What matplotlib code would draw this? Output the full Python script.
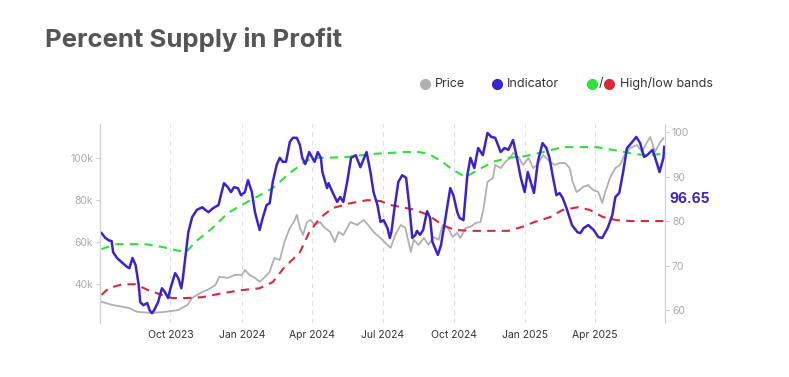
import matplotlib
matplotlib.use("Agg")
import matplotlib.pyplot as plt
import matplotlib.dates as mdates
from matplotlib.lines import Line2D
import pandas as pd

# Indicator (percent supply in profit, right axis)
ind_dates = ["2023-07-04", "2023-07-09", "2023-07-13", "2023-07-17", "2023-07-19", "2023-07-24",
             "2023-07-31", "2023-08-06", "2023-08-09", "2023-08-13", "2023-08-17", "2023-08-21",
             "2023-08-23", "2023-08-27", "2023-09-01", "2023-09-04", "2023-09-07", "2023-09-10",
             "2023-09-15", "2023-09-20", "2023-09-24", "2023-09-28", "2023-10-01", "2023-10-07",
             "2023-10-11", "2023-10-15", "2023-10-17", "2023-10-21", "2023-10-24", "2023-10-29",
             "2023-11-04", "2023-11-11", "2023-11-15", "2023-11-19", "2023-11-25", "2023-12-02",
             "2023-12-05", "2023-12-09", "2023-12-14", "2023-12-18", "2023-12-22", "2023-12-27",
             "2023-12-31", "2024-01-05", "2024-01-09", "2024-01-14", "2024-01-18", "2024-01-24",
             "2024-01-28", "2024-02-02", "2024-02-06", "2024-02-10", "2024-02-15", "2024-02-19",
             "2024-02-23", "2024-02-27", "2024-03-03", "2024-03-07", "2024-03-12", "2024-03-16",
             "2024-03-19", "2024-03-23", "2024-03-28", "2024-04-01", "2024-04-04", "2024-04-08",
             "2024-04-12", "2024-04-14", "2024-04-20", "2024-04-22", "2024-04-27", "2024-05-03",
             "2024-05-07", "2024-05-11", "2024-05-16", "2024-05-21", "2024-05-27", "2024-06-02",
             "2024-06-10", "2024-06-15", "2024-06-19", "2024-06-24", "2024-06-28", "2024-07-02",
             "2024-07-07", "2024-07-10", "2024-07-12", "2024-07-16", "2024-07-21", "2024-07-26",
             "2024-07-31", "2024-08-04", "2024-08-08", "2024-08-12", "2024-08-14", "2024-08-18",
             "2024-08-22", "2024-08-27", "2024-08-31", "2024-09-03", "2024-09-10", "2024-09-14",
             "2024-09-19", "2024-09-26", "2024-09-30", "2024-10-05", "2024-10-08", "2024-10-13",
             "2024-10-18", "2024-10-22", "2024-10-27", "2024-11-01", "2024-11-07", "2024-11-13",
             "2024-11-18", "2024-11-23", "2024-11-30", "2024-12-05", "2024-12-10", "2024-12-16",
             "2024-12-21", "2024-12-26", "2024-12-31", "2025-01-04", "2025-01-12", "2025-01-17",
             "2025-01-23", "2025-01-28", "2025-02-01", "2025-02-05", "2025-02-10", "2025-02-14",
             "2025-02-18", "2025-02-23", "2025-03-02", "2025-03-09", "2025-03-13", "2025-03-17",
             "2025-03-23", "2025-03-30", "2025-04-05", "2025-04-10", "2025-04-17", "2025-04-23",
             "2025-04-27", "2025-05-02", "2025-05-07", "2025-05-12", "2025-05-19", "2025-05-24",
             "2025-05-29", "2025-06-03", "2025-06-07", "2025-06-14", "2025-06-19", "2025-06-23",
             "2025-06-28", "2025-06-29"]
ind_values = [77.3, 76.2, 75.7, 75.5, 73.0, 71.7,
              70.6, 69.7, 69.4, 71.7, 70.1, 65.6,
              61.8, 61.1, 61.6, 60.0, 59.3, 60.0,
              61.8, 64.9, 64.0, 62.7, 64.9, 68.3,
              67.2, 64.9, 67.2, 73.0, 77.5, 80.9,
              82.5, 83.1, 82.5, 82.0, 82.9, 83.6,
              85.8, 88.5, 87.6, 86.5, 87.6, 87.4,
              85.8, 86.5, 89.2, 86.5, 82.0, 78.0,
              80.7, 83.6, 84.0, 88.8, 92.6, 94.2,
              93.3, 93.3, 97.8, 98.7, 98.7, 97.1,
              94.2, 92.8, 95.5, 94.2, 93.3, 95.5,
              94.2, 91.0, 87.4, 88.5, 86.5, 84.3,
              85.4, 84.3, 88.8, 94.2, 94.8, 92.1,
              95.5, 91.0, 86.5, 83.6, 79.8, 80.2,
              78.4, 76.2, 77.5, 82.9, 88.8, 90.3,
              89.7, 83.6, 76.2, 76.9, 77.8, 76.9,
              78.0, 82.2, 80.7, 75.3, 72.4, 74.6,
              79.8, 87.4, 85.8, 82.0, 80.7, 80.2,
              90.3, 94.2, 91.9, 96.4, 94.8, 99.8,
              98.9, 98.7, 95.5, 96.4, 96.0, 98.2,
              94.2, 89.7, 86.5, 91.0, 86.3, 93.3,
              97.5, 96.4, 94.2, 90.3, 85.8, 86.3,
              85.2, 82.9, 79.1, 77.5, 77.3, 78.4,
              79.1, 78.0, 76.4, 76.2, 78.4, 81.3,
              85.4, 86.3, 91.0, 96.4, 97.8, 98.9,
              97.5, 94.4, 94.8, 96.0, 93.3, 91.0,
              94.2, 96.65]

# High band (green) and low band (red), right axis
high_dates = ["2023-07-04", "2023-07-22", "2023-08-30", "2023-09-20", "2023-10-07", "2023-10-21",
              "2023-11-02", "2023-11-24", "2023-12-14", "2024-01-05", "2024-01-20", "2024-02-10",
              "2024-03-03", "2024-03-20", "2024-04-01", "2024-04-20", "2024-05-16", "2024-06-19",
              "2024-07-11", "2024-07-26", "2024-08-16", "2024-08-29", "2024-09-16", "2024-09-29",
              "2024-10-16", "2024-11-01", "2024-11-20", "2024-12-10", "2025-01-01", "2025-01-24",
              "2025-02-18", "2025-04-03", "2025-05-03", "2025-05-20", "2025-06-07", "2025-06-28"]
high_values = [73.7, 74.8, 74.8, 74.2, 73.5, 73.0,
               75.3, 78.4, 81.8, 84.0, 85.4, 87.4,
               90.8, 93.0, 94.2, 94.2, 94.4, 95.1,
               95.3, 95.5, 95.5, 95.1, 93.3, 91.5,
               89.9, 91.5, 93.3, 94.2, 94.6, 95.5,
               96.6, 96.6, 95.7, 95.1, 94.8, 95.1]

low_dates = ["2023-07-04", "2023-07-13", "2023-07-31", "2023-08-17", "2023-09-02", "2023-09-20",
             "2023-10-03", "2023-10-20", "2023-11-11", "2023-12-07", "2024-01-01", "2024-01-24",
             "2024-02-10", "2024-02-24", "2024-03-16", "2024-03-28", "2024-04-11", "2024-04-27",
             "2024-05-20", "2024-06-11", "2024-06-28", "2024-07-11", "2024-07-26", "2024-08-12",
             "2024-08-29", "2024-09-16", "2024-10-02", "2024-10-24", "2024-11-20", "2024-12-10",
             "2024-12-28", "2025-01-13", "2025-02-02", "2025-02-18", "2025-03-10", "2025-03-25",
             "2025-04-11", "2025-04-29", "2025-05-16", "2025-06-28"]
low_values = [63.4, 64.9, 65.8, 65.8, 64.5, 63.4,
              62.7, 62.7, 62.9, 63.8, 64.5, 64.9,
              66.3, 69.4, 73.0, 77.5, 80.7, 82.9,
              84.0, 84.7, 84.5, 83.6, 83.1, 82.5,
              81.3, 79.1, 78.0, 77.8, 77.8, 77.8,
              78.7, 79.8, 80.9, 82.5, 83.1, 82.5,
              80.9, 80.2, 80.0, 80.0]

# BTC price in thousands of USD (left axis)
price_dates = ["2023-07-04", "2023-07-18", "2023-08-08", "2023-08-19", "2023-09-07", "2023-09-24",
               "2023-10-11", "2023-10-23", "2023-10-29", "2023-11-11", "2023-11-18", "2023-11-28",
               "2023-12-03", "2023-12-14", "2023-12-23", "2024-01-01", "2024-01-05", "2024-01-11",
               "2024-01-18", "2024-01-24", "2024-01-31", "2024-02-06", "2024-02-12", "2024-02-19",
               "2024-02-25", "2024-03-03", "2024-03-08", "2024-03-12", "2024-03-16", "2024-03-20",
               "2024-03-25", "2024-03-30", "2024-04-04", "2024-04-11", "2024-04-17", "2024-04-24",
               "2024-04-30", "2024-05-05", "2024-05-11", "2024-05-20", "2024-05-29", "2024-06-06",
               "2024-06-12", "2024-06-19", "2024-06-28", "2024-07-07", "2024-07-11", "2024-07-17",
               "2024-07-24", "2024-07-30", "2024-08-06", "2024-08-10", "2024-08-16", "2024-08-23",
               "2024-08-29", "2024-09-04", "2024-09-11", "2024-09-16", "2024-09-23", "2024-09-29",
               "2024-10-05", "2024-10-09", "2024-10-16", "2024-10-22", "2024-10-29", "2024-11-04",
               "2024-11-08", "2024-11-13", "2024-11-20", "2024-11-23", "2024-11-30", "2024-12-06",
               "2024-12-12", "2024-12-16", "2024-12-23", "2024-12-29", "2025-01-05", "2025-01-11",
               "2025-01-16", "2025-01-24", "2025-02-02", "2025-02-08", "2025-02-14", "2025-02-21",
               "2025-02-27", "2025-03-03", "2025-03-08", "2025-03-12", "2025-03-16", "2025-03-23",
               "2025-03-29", "2025-04-05", "2025-04-10", "2025-04-14", "2025-04-20", "2025-04-27",
               "2025-05-03", "2025-05-09", "2025-05-16", "2025-05-25", "2025-05-31", "2025-06-07",
               "2025-06-11", "2025-06-17", "2025-06-24", "2025-06-28"]
price_k = [31.5, 30.0, 28.6, 26.7, 26.2, 26.7,
           27.6, 30.0, 33.4, 36.2, 37.2, 39.5,
           43.4, 42.9, 44.3, 44.3, 46.7, 44.3,
           42.9, 41.0, 43.4, 45.8, 52.4, 51.4,
           60.0, 66.7, 69.5, 72.9, 66.7, 63.3,
           69.5, 70.5, 68.1, 69.5, 66.7, 64.8,
           60.0, 64.8, 63.3, 69.5, 68.1, 70.5,
           68.1, 64.8, 61.9, 58.6, 57.2, 63.3,
           68.1, 66.7, 55.3, 61.0, 58.6, 61.9,
           58.6, 62.4, 61.0, 68.1, 66.7, 62.4,
           64.3, 61.9, 66.7, 67.2, 69.1, 69.5,
           76.2, 88.6, 90.5, 96.7, 95.2, 98.1,
           100.0, 102.4, 100.5, 96.7, 100.0, 95.2,
           96.7, 101.4, 98.1, 96.7, 97.6, 97.6,
           95.2, 88.6, 83.8, 84.8, 86.2, 87.1,
           84.8, 83.8, 78.6, 83.8, 90.5, 95.2,
           96.7, 101.4, 104.8, 106.2, 102.9, 107.6,
           110.0, 102.9, 107.6, 109.5]

last_value = "96.65"
left_ticks = [40, 60, 80, 100]
right_ticks = [60, 70, 80, 90, 100]

c_price = "#b0b0b0"
c_ind = "#3a24c9"
c_high = "#2fe03a"
c_low = "#d8283a"

plt.rcParams["font.family"] = ["Inter", "DejaVu Sans"]

fig = plt.figure(figsize=(7.89, 3.77), dpi=100)
ax = fig.add_axes([0.1267, 0.1432, 0.7161, 0.5279])
ax2 = ax.twinx()

ax.plot(pd.to_datetime(price_dates), price_k, color=c_price, lw=1.3)
ax2.plot(pd.to_datetime(high_dates), high_values, color=c_high, lw=1.5, ls=(0, (4, 3)))
ax2.plot(pd.to_datetime(low_dates), low_values, color=c_low, lw=1.5, ls=(0, (4, 3)))
ax2.plot(pd.to_datetime(ind_dates), ind_values, color=c_ind, lw=1.8)

ax.set_xlim(pd.Timestamp("2023-07-02"), pd.Timestamp("2025-06-30"))
ax.set_ylim(21.4, 116.2)
ax2.set_ylim(57.1, 101.8)

ax.xaxis.set_major_locator(mdates.MonthLocator(bymonth=[1, 4, 7, 10]))
ax.xaxis.set_major_formatter(mdates.DateFormatter("%b %Y"))
ax.grid(axis="x", color="#dddddd", ls=(0, (4, 4)), lw=0.8)
ax.tick_params(axis="x", length=0, labelsize=7.5, labelcolor="#333333", pad=5)

ax.set_yticks(left_ticks)
ax.set_yticklabels([f"{v}k" for v in left_ticks])
ax.tick_params(axis="y", length=3, color="#cccccc", labelsize=7.5, labelcolor="#aaaaaa", pad=2)
ax2.set_yticks(right_ticks)
ax2.tick_params(axis="y", length=3, color="#cccccc", labelsize=7.5, labelcolor="#aaaaaa", pad=2)

for a in (ax, ax2):
    for side in ("top", "bottom"):
        a.spines[side].set_visible(False)
    a.spines["left"].set_color("#d0d0d0")
    a.spines["right"].set_color("#d0d0d0")

fig.text(690 / 789, 1 - 199 / 377, last_value, color=c_ind, fontsize=10,
         fontweight="bold", ha="center", va="center")

# title
fig.text(45 / 789, 1 - 40 / 377, "Percent Supply in Profit", fontsize=18.5,
         fontweight="bold", color="#555555", ha="left", va="center")

# legend row
ly = 1 - 84 / 377
for x, c in [(425, c_price), (497, c_ind), (592, c_high), (609, c_low)]:
    fig.add_artist(Line2D([x / 789], [ly], marker="o", ms=7, color=c, lw=0,
                          transform=fig.transFigure))
fig.text(435 / 789, ly, "Price", fontsize=9, color="#333333", va="center")
fig.text(507 / 789, ly, "Indicator", fontsize=9, color="#333333", va="center")
fig.text(600.5 / 789, ly, "/", fontsize=9, color="#333333", va="center", ha="center")
fig.text(620 / 789, ly, "High/low bands", fontsize=9, color="#333333", va="center")

fig.savefig("out.png", dpi=100, facecolor="white")
